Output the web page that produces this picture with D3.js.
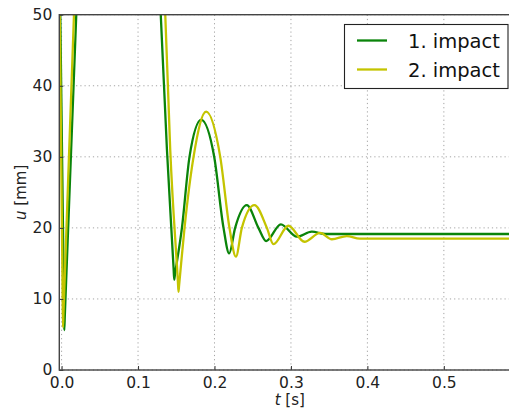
<!DOCTYPE html>
<html><head><meta charset="utf-8">
<script src="https://cdn.jsdelivr.net/npm/d3@7/dist/d3.min.js"></script>
<style>
html,body{margin:0;padding:0;background:#fff;overflow:hidden;}
svg{display:block;font-family:"DejaVu Sans",sans-serif;}
</style></head>
<body>
<svg id="chart" width="509" height="413"></svg>
<script>
// ---- data ----
const seriesNames = ["1. impact", "2. impact"];
const seriesColors = ["#0a840a", "#c4c400"];
// 1. impact
const t1 = [-0.003, 0.0028, 0.0035, 0.0042, 0.0192, 0.023, 0.06, 0.10, 0.124, 0.1297, 0.1378, 0.1465, 0.1473, 0.1481, 0.1574, 0.1673, 0.1826, 0.1996, 0.2118, 0.2192, 0.227, 0.2423, 0.2575, 0.2676, 0.2868, 0.3077, 0.3273, 0.345, 0.40, 0.50, 0.60];
const u1 = [61, 11.6, 5.6, 7.6, 50, 61, 68, 68, 61, 50, 31, 14.3, 12.7, 13.3, 20, 30, 35.2, 30, 20, 16.4, 20, 23.2, 20, 18.15, 20.5, 18.76, 19.46, 19.14, 19.14, 19.14, 19.14];
// 2. impact
const t2 = [-0.003, 0.0012, 0.0018, 0.0025, 0.0162, 0.020, 0.06, 0.10, 0.130, 0.1356, 0.1421, 0.1521, 0.1529, 0.1537, 0.1608, 0.1726, 0.1891, 0.2075, 0.2196, 0.228, 0.2358, 0.2523, 0.2685, 0.2771, 0.2967, 0.3176, 0.3382, 0.3535, 0.373, 0.39, 0.45, 0.60];
const u2 = [56, 12.2, 6.0, 8.1, 50, 61, 68, 68, 61, 50, 31, 12.5, 11.0, 11.9, 20, 30, 36.35, 30, 20, 15.95, 20, 23.2, 20, 17.7, 20.3, 18.05, 19.3, 18.4, 18.85, 18.5, 18.48, 18.48];
const xTicks = [0.0, 0.1, 0.2, 0.3, 0.4, 0.5];
const xTickLabels = ["0.0", "0.1", "0.2", "0.3", "0.4", "0.5"];
const yTicks = [0, 10, 20, 30, 40, 50];
const yTickLabels = ["0", "10", "20", "30", "40", "50"];
const xDomain = [-0.003, 0.6];
const yDomain = [0, 50];

// ---- layout ----
const L = 59.3, R = 520.3, T = 14.7, B = 370;
const svg = d3.select("#chart");
const x = d3.scaleLinear().domain(xDomain).range([L, R]);
const y = d3.scaleLinear().domain(yDomain).range([B, T]);

svg.append("defs").append("clipPath").attr("id", "clip")
  .append("rect").attr("x", L).attr("y", T).attr("width", R - L).attr("height", B - T);

// grid
const grid = svg.append("g").attr("stroke", "#9a9a9a").attr("stroke-width", 0.9).attr("stroke-dasharray", "1.2,3");
grid.selectAll(".gx").data(xTicks).join("line")
  .attr("x1", d => x(d)).attr("x2", d => x(d)).attr("y1", T).attr("y2", B);
grid.selectAll(".gy").data(yTicks).join("line")
  .attr("x1", L).attr("x2", R).attr("y1", d => y(d)).attr("y2", d => y(d));

// lines
const series = [t1.map((t, i) => [t, u1[i]]), t2.map((t, i) => [t, u2[i]])];
const line = d3.line().x(d => x(d[0])).y(d => y(d[1])).curve(d3.curveMonotoneX);
const lg = svg.append("g").attr("clip-path", "url(#clip)");
series.forEach((s, i) => {
  lg.append("path").attr("d", line(s)).attr("fill", "none")
    .attr("stroke", seriesColors[i]).attr("stroke-width", 2.3).attr("stroke-linejoin", "round");
});

// axes with inward ticks
const xAxis = d3.axisBottom(x).tickValues(xTicks).tickFormat((d, i) => xTickLabels[i]).tickSizeInner(-4).tickSizeOuter(0).tickPadding(6.5);
const yAxis = d3.axisLeft(y).tickValues(yTicks).tickFormat((d, i) => yTickLabels[i]).tickSizeInner(-4).tickSizeOuter(0).tickPadding(7);
const gx = svg.append("g").attr("transform", `translate(0,${B})`).call(xAxis);
const gy = svg.append("g").attr("transform", `translate(${L},0)`).call(yAxis);
[gx, gy].forEach(g => {
  g.select(".domain").remove();
  g.selectAll(".tick line").attr("stroke", "#333");
  g.selectAll("text").attr("font-size", 15.5).attr("fill", "#222").attr("font-family", "DejaVu Sans");
});

// frame
svg.append("rect").attr("x", L).attr("y", T).attr("width", R - L).attr("height", B - T)
  .attr("fill", "none").attr("stroke", "#444").attr("stroke-width", 1.4);

// axis labels
const xl = svg.append("text").attr("x", (L + R) / 2).attr("y", 405).attr("text-anchor", "middle")
  .attr("font-size", 15).attr("fill", "#222");
xl.append("tspan").attr("font-style", "italic").text("t");
xl.append("tspan").text(" [s]");
const yl = svg.append("text").attr("transform", `translate(26,${(T + B) / 2}) rotate(-90)`)
  .attr("text-anchor", "middle").attr("font-size", 15).attr("fill", "#222");
yl.append("tspan").attr("font-style", "italic").text("u");
yl.append("tspan").text(" [mm]");

// legend
const leg = svg.append("g");
leg.append("rect").attr("x", 344.5).attr("y", 24.5).attr("width", 163.5).attr("height", 64)
  .attr("fill", "#fff").attr("stroke", "#222").attr("stroke-width", 1.1);
seriesNames.forEach((n, i) => {
  const yy = 40.5 + i * 29;
  leg.append("line").attr("x1", 357).attr("x2", 387).attr("y1", yy).attr("y2", yy)
    .attr("stroke", seriesColors[i]).attr("stroke-width", 2.3);
  leg.append("text").attr("x", 408).attr("y", yy).attr("dy", "0.36em")
    .attr("font-size", 19.5).attr("fill", "#111").text(n);
});
</script>
</body></html>
